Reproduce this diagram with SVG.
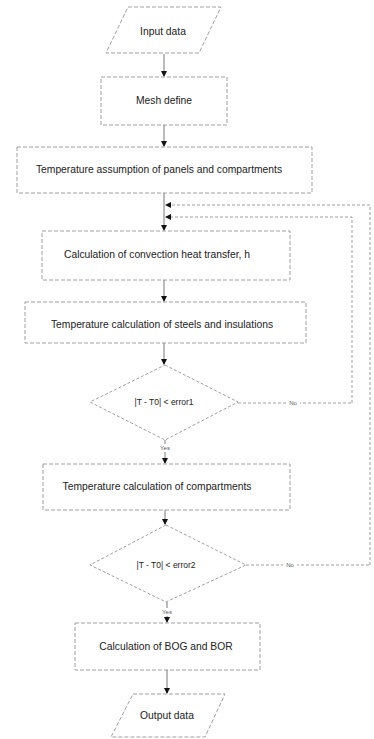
<svg xmlns="http://www.w3.org/2000/svg" width="374" height="739" viewBox="0 0 374 739">
<defs>
<marker id="ad" markerWidth="6" markerHeight="6" refX="5" refY="3" orient="auto" markerUnits="userSpaceOnUse">
<path d="M0,0 L6,3 L0,6 Z" fill="#111"/>
</marker>
</defs>
<style>
.s{fill:none;stroke:#888;stroke-width:0.8;stroke-dasharray:4 2}
.c{fill:none;stroke:#888;stroke-width:0.8;stroke-dasharray:3 2}
.a{fill:none;stroke:#555;stroke-width:0.8}
.t{font-family:"Liberation Sans",Arial,sans-serif;font-size:10.3px;fill:#222;text-anchor:middle}
.l{font-family:"Liberation Sans",Arial,sans-serif;font-size:6px;fill:#555;text-anchor:middle}
.bg{fill:#fff}
</style>
<rect width="374" height="739" fill="#fff"/>
<g id="connectors">
<line class="a" x1="164" y1="54" x2="164" y2="76" marker-end="url(#ad)"/>
<line class="a" x1="164" y1="125" x2="164" y2="146" marker-end="url(#ad)"/>
<line class="a" x1="164" y1="193" x2="164" y2="230" marker-end="url(#ad)"/>
<polyline class="c" points="352,403 352,217 166,217" marker-end="url(#ad)"/>
<polyline class="c" points="370,565 370,205 166,205" marker-end="url(#ad)"/>
<line class="a" x1="164" y1="280" x2="164" y2="301" marker-end="url(#ad)"/>
<line class="a" x1="164" y1="343" x2="164" y2="364" marker-end="url(#ad)"/>
<line class="a" x1="165" y1="440" x2="165" y2="463" marker-end="url(#ad)"/>
<line class="a" x1="165" y1="510" x2="165" y2="524" marker-end="url(#ad)"/>
<line class="a" x1="167" y1="602" x2="167" y2="622" marker-end="url(#ad)"/>
<line class="a" x1="167" y1="670" x2="167" y2="693" marker-end="url(#ad)"/>
<line class="c" x1="238" y1="403" x2="352" y2="403"/>
<line class="c" x1="246" y1="565" x2="370" y2="565"/>
<rect class="bg" x="286" y="398" width="14" height="9"/>
<rect class="bg" x="283" y="560" width="14" height="9"/>
<rect class="bg" x="158" y="444" width="14" height="8"/>
<rect class="bg" x="160" y="608" width="14" height="8"/>
<text class="l" x="293" y="405">No</text>
<text class="l" x="290" y="567">No</text>
<text class="l" x="165" y="450">Yes</text>
<text class="l" x="167" y="614">Yes</text>
</g>
<g id="input">
<polygon class="s" points="128,7 221,7 199,53 106,53"/>
<text class="t" x="163" y="35">Input data</text>
</g>
<g id="mesh">
<rect class="s" x="101" y="77" width="126" height="48"/>
<text class="t" x="164" y="104">Mesh define</text>
</g>
<g id="assumption">
<rect class="s" x="17" y="147" width="295" height="46"/>
<text class="t" x="159" y="173">Temperature assumption of panels and compartments</text>
</g>
<g id="convection">
<rect class="s" x="42" y="231" width="248" height="49"/>
<text class="t" x="157" y="258">Calculation of convection heat transfer, h</text>
</g>
<g id="steels">
<rect class="s" x="25" y="302" width="281" height="41"/>
<text class="t" x="162" y="328">Temperature calculation of steels and insulations</text>
</g>
<g id="decision1">
<polygon class="c" points="165,365 238,402 165,440 90,402"/>
<text class="t" x="164" y="405" style="font-size:8.5px">|T - T0| &lt; error1</text>
</g>
<g id="compartments">
<rect class="s" x="43" y="464" width="247" height="46"/>
<text class="t" x="157" y="490">Temperature calculation of compartments</text>
</g>
<g id="decision2">
<polygon class="c" points="166,525 246,565 166,602 90,565"/>
<text class="t" x="166" y="568" style="font-size:8.5px">|T - T0| &lt; error2</text>
</g>
<g id="bog">
<rect class="s" x="75" y="623" width="185" height="47"/>
<text class="t" x="166" y="650">Calculation of BOG and BOR</text>
</g>
<g id="output">
<polygon class="s" points="133,694 225,694 205,737 111,737"/>
<text class="t" x="167" y="719">Output data</text>
</g>
</svg>
